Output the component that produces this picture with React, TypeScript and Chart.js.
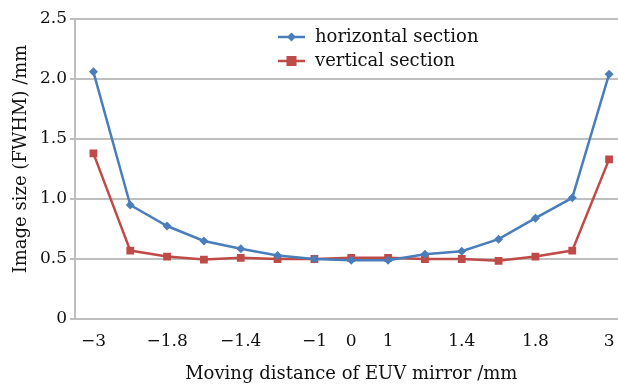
import React, { useEffect, useRef } from "react";
import { Chart, registerables } from "chart.js";

Chart.register(...registerables);

const categories = ["-3", "-2.2", "-1.8", "-1.6", "-1.4", "-1.2", "-1", "0", "1", "1.2", "1.4", "1.6", "1.8", "2.2", "3"];
const tickLabels = ["−3", "", "−1.8", "", "−1.4", "", "−1", "0", "1", "", "1.4", "", "1.8", "", "3"];
const horizontalSection = [2.06, 0.95, 0.775, 0.65, 0.585, 0.53, 0.5, 0.49, 0.49, 0.54, 0.565, 0.665, 0.84, 1.01, 2.04];
const verticalSection = [1.38, 0.57, 0.52, 0.495, 0.51, 0.5, 0.5, 0.51, 0.51, 0.5, 0.5, 0.485, 0.52, 0.57, 1.33];
const yTicks = ["0", "0.5", "1.0", "1.5", "2.0", "2.5"];
const yTitle = "Image size (FWHM) /mm";
const xTitle = "Moving distance of EUV mirror /mm";

const FONT = "'DejaVu Serif', serif";
const BLUE = "#4a7ebb";
const RED = "#be4b48";

const legendPlugin = {
  id: "customLegend",
  afterDraw(chart: any) {
    const ctx = chart.ctx;
    const items = chart.data.datasets;
    const x0 = 278;
    const y0 = 37;
    const gap = 24;
    ctx.save();
    items.forEach((ds: any, i: number) => {
      const y = y0 + i * gap;
      ctx.strokeStyle = ds.borderColor;
      ctx.lineWidth = 2.5;
      ctx.beginPath();
      ctx.moveTo(x0, y);
      ctx.lineTo(x0 + 27, y);
      ctx.stroke();
      ctx.fillStyle = ds.borderColor;
      const cx = x0 + 13.5;
      if (ds.pointStyle === "rect") {
        ctx.fillRect(cx - 5, y - 5, 10, 10);
      } else {
        ctx.beginPath();
        ctx.moveTo(cx, y - 4.5);
        ctx.lineTo(cx + 4.5, y);
        ctx.lineTo(cx, y + 4.5);
        ctx.lineTo(cx - 4.5, y);
        ctx.closePath();
        ctx.fill();
      }
      ctx.fillStyle = "#111";
      ctx.font = `18px ${FONT}`;
      ctx.textBaseline = "middle";
      ctx.textAlign = "left";
      ctx.fillText(ds.label, x0 + 37, y);
    });
    // y-axis title
    ctx.translate(21, 159);
    ctx.rotate(-Math.PI / 2);
    ctx.textAlign = "center";
    ctx.textBaseline = "middle";
    ctx.font = `18px ${FONT}`;
    ctx.fillStyle = "#111";
    ctx.fillText(yTitle, 0, 0);
    ctx.restore();
  },
};

export default function App() {
  const ref = useRef<HTMLCanvasElement>(null);
  useEffect(() => {
    if (!ref.current) return;
    const chart = new Chart(ref.current, {
      type: "line",
      data: {
        labels: categories,
        datasets: [
          {
            label: "horizontal section",
            data: horizontalSection,
            borderColor: BLUE,
            backgroundColor: BLUE,
            borderWidth: 2.5,
            pointStyle: "rectRot",
            pointRadius: 4.5,
            pointBorderWidth: 0,
            tension: 0,
          },
          {
            label: "vertical section",
            data: verticalSection,
            borderColor: RED,
            backgroundColor: RED,
            borderWidth: 2.5,
            pointStyle: "rect",
            pointRadius: 5.5,
            pointBorderWidth: 0,
            tension: 0,
          },
        ],
      },
      options: {
        animation: false,
        responsive: false,
        maintainAspectRatio: false,
        layout: { padding: { top: 19, right: 0, left: 0, bottom: 0 } },
        plugins: { legend: { display: false }, tooltip: { enabled: false } },
        scales: {
          x: {
            type: "category",
            offset: true,
            grid: { display: false, drawTicks: false },
            border: { display: true, color: "#bfbfbf", width: 2 },
            ticks: {
              autoSkip: false,
              maxRotation: 0,
              padding: 12,
              color: "#111",
              font: { family: FONT, size: 17 },
              callback: (_v: any, i: number) => tickLabels[i],
            },
            title: {
              display: true,
              text: xTitle,
              color: "#111",
              font: { family: FONT, size: 18 },
              padding: { top: 3, bottom: 0 },
            },
            afterFit: (s: any) => { s.height = 66; },
          },
          y: {
            min: 0,
            max: 2.5,
            grid: { color: "#bfbfbf", lineWidth: 2, drawTicks: true, tickLength: 5 },
            border: { display: true, color: "#bfbfbf", width: 2 },
            ticks: {
              stepSize: 0.5,
              padding: 3,
              color: "#111",
              font: { family: FONT, size: 17 },
              callback: (_v: any, i: number) => yTicks[i],
            },
            afterFit: (s: any) => { s.width = 75; },
          },
        },
      },
      plugins: [legendPlugin],
    });
    return () => chart.destroy();
  }, []);
  return (
    <div style={{ position: "fixed", left: 0, top: 0, width: 618, height: 385, overflow: "hidden", background: "#fff" }}>
      <canvas ref={ref} width={633} height={385} style={{ width: 633, height: 385, display: "block" }} />
    </div>
  );
}
